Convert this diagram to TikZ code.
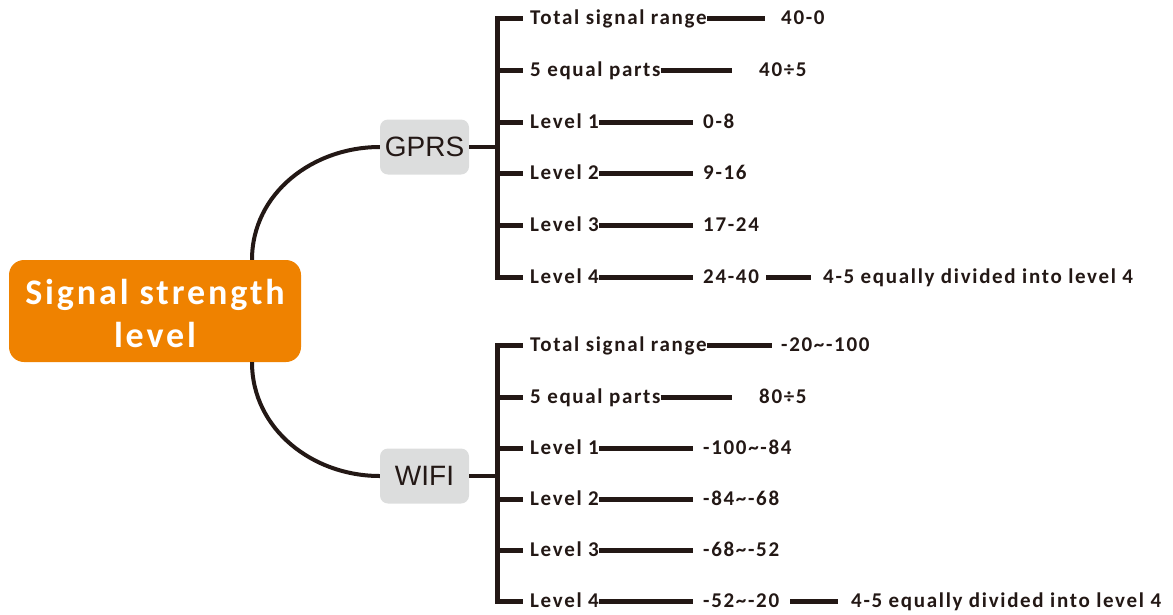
\documentclass[tikz,border=0pt]{standalone}
\usepackage{fontspec}
\setmainfont{Carlito}[LetterSpace=8]
\newfontfamily\arialf{Liberation Sans}
\definecolor{ink}{HTML}{231815}
\definecolor{orng}{HTML}{EF8200}
\definecolor{gbox}{HTML}{DCDDDD}
\tikzset{
  lbl/.style={font=\bfseries\fontsize{21}{21}\selectfont, text=ink, inner sep=0pt, anchor=west, text height=17pt, text depth=4pt},
  catbox/.style={fill=gbox, rounded corners=8pt, minimum width=89pt, minimum height=55pt, inner sep=0pt, font=\arialf\fontsize{28}{28}\selectfont, text=ink},
  rootbox/.style={fill=orng, rounded corners=15pt, minimum width=292pt, minimum height=102pt, inner sep=0pt, align=center, text=white, font=\bfseries\fontsize{36}{43}\selectfont},
  curve/.style={draw=ink, line width=4pt},
  brk/.style={draw=ink, line width=4pt},
  twig/.style={draw=ink, line width=5pt},
  rl/.style={draw=ink, line width=5pt},
  stub/.style={draw=ink, line width=3.5pt},
}
\begin{document}
\begin{tikzpicture}[x=1pt,y=-1pt]
\useasboundingbox (0,0) rectangle (1173,614);
% root and categories
\node[rootbox] (root) at (155,311) {\rule{0pt}{31pt}Signal strength\\level};
\node[catbox] (gprs) at (424.5,147) {GPRS};
\node[catbox] (wifi) at (424.5,476) {WIFI};
\draw[curve] ([xshift=97pt]root.north) to[out=90,in=180] (gprs.west);
\draw[curve] ([xshift=97pt]root.south) to[out=-90,in=180] (wifi.west);
% junctions
\coordinate (gj) at (497,147);
\coordinate (wj) at (497,476);
\draw[stub] (gprs.east) -- (gj);
\draw[stub] (wifi.east) -- (wj);
% GPRS rows
\node[lbl] (g1) at (530,18) {Total signal range};
\node[lbl] (g2) at (530,70) {5 equal parts};
\node[lbl] (g3) at (530,122) {Level 1};
\node[lbl] (g4) at (530,173) {Level 2};
\node[lbl] (g5) at (530,225) {Level 3};
\node[lbl] (g6) at (530,277) {Level 4};
\node[lbl] (gv1) at (781,18) {40-0};
\node[lbl] (gv2) at (759,70) {40÷5};
\node[lbl] (gv3) at (703,122) {0-8};
\node[lbl] (gv4) at (703,173) {9-16};
\node[lbl] (gv5) at (703,225) {17-24};
\node[lbl] (gv6) at (703,277) {24-40};
\node[lbl] (gx6) at (823,277) {4-5 equally divided into level 4};
\draw[brk] (g1.west -| gj) -- (g6.west -| gj);
\foreach \n in {g1,g2,g3,g4,g5,g6}{
  \draw[twig, shorten >=7pt] (gj) |- (\n.west);
}
\draw[rl, shorten >=16pt] (g1.east) -- (gv1.west);
\draw[rl, shorten >=27pt] (g2.east) -- (gv2.west);
\draw[rl, shorten >=10pt] (g3.east) -- (gv3.west);
\draw[rl, shorten >=10pt] (g4.east) -- (gv4.west);
\draw[rl, shorten >=10pt] (g5.east) -- (gv5.west);
\draw[rl, shorten >=10pt] (g6.east) -- (gv6.west);
\draw[rl, shorten <=7pt, shorten >=12pt] (gv6.east) -- (gx6.west);
% WIFI rows
\node[lbl] (w1) at (530,345) {Total signal range};
\node[lbl] (w2) at (530,397) {5 equal parts};
\node[lbl] (w3) at (530,448) {Level 1};
\node[lbl] (w4) at (530,499) {Level 2};
\node[lbl] (w5) at (530,550) {Level 3};
\node[lbl] (w6) at (530,601) {Level 4};
\node[lbl] (wv1) at (781,345) {-20\textasciitilde-100};
\node[lbl] (wv2) at (759,397) {80÷5};
\node[lbl] (wv3) at (703,448) {-100\textasciitilde-84};
\node[lbl] (wv4) at (703,499) {-84\textasciitilde-68};
\node[lbl] (wv5) at (703,550) {-68\textasciitilde-52};
\node[lbl] (wv6) at (703,601) {-52\textasciitilde-20};
\node[lbl] (wx6) at (851,601) {4-5 equally divided into level 4};
\draw[brk] (w1.west -| wj) -- (w6.west -| wj);
\foreach \n in {w1,w2,w3,w4,w5,w6}{
  \draw[twig, shorten >=7pt] (wj) |- (\n.west);
}
\draw[rl, shorten >=9pt] (w1.east) -- (wv1.west);
\draw[rl, shorten >=27pt] (w2.east) -- (wv2.west);
\draw[rl, shorten >=10pt] (w3.east) -- (wv3.west);
\draw[rl, shorten >=10pt] (w4.east) -- (wv4.west);
\draw[rl, shorten >=10pt] (w5.east) -- (wv5.west);
\draw[rl, shorten >=10pt] (w6.east) -- (wv6.west);
\draw[rl, shorten <=11pt, shorten >=13pt] (wv6.east) -- (wx6.west);
\end{tikzpicture}
\end{document}
